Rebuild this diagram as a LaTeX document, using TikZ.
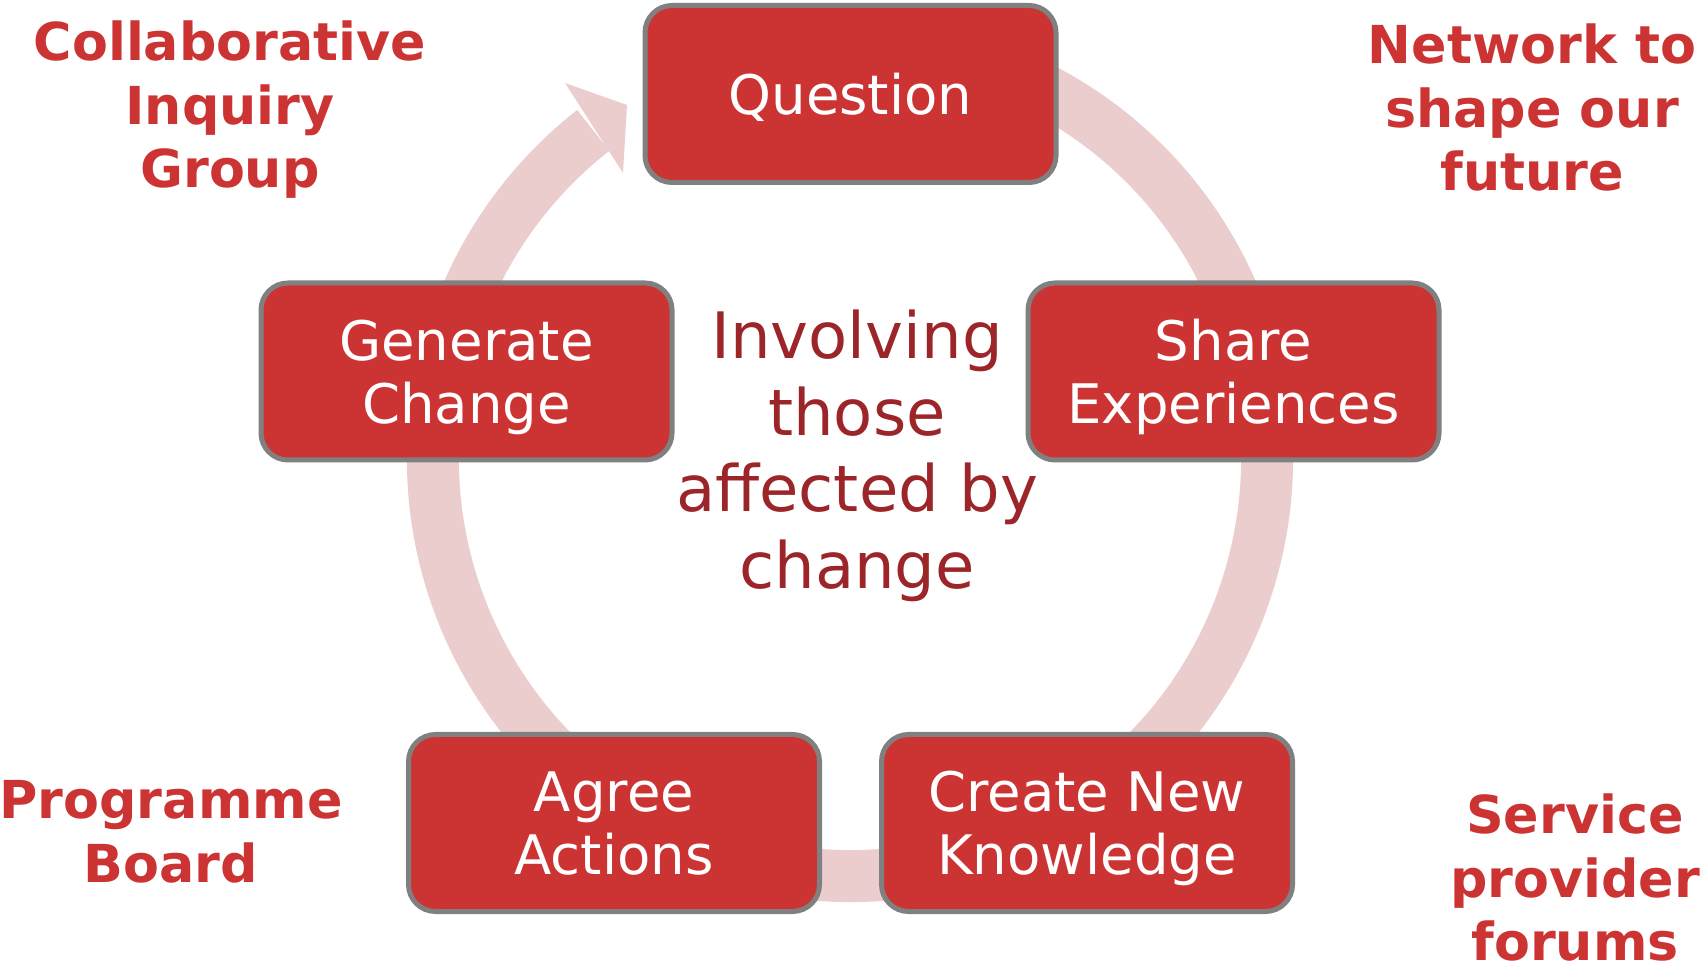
\documentclass[tikz,border=0pt]{standalone}
\usepackage{fontspec}
\setmainfont{DejaVu Sans}
\definecolor{boxred}{HTML}{CC3333}
\definecolor{boxgrey}{HTML}{808080}
\definecolor{ringpink}{HTML}{EBCDCE}
\definecolor{labelred}{HTML}{CC3333}
\definecolor{centerred}{HTML}{9B2529}
\newcommand{\zerodepth}[1]{\raisebox{0pt}[\height][0pt]{#1}}
\begin{document}
\begin{tikzpicture}[x=1pt,y=1pt,
  stepbox/.style={draw=boxgrey, line width=5pt, fill=boxred, rounded corners=27pt,
    minimum width=411pt, minimum height=177pt, text=white, align=center,
    font=\fontsize{54.5}{63}\selectfont, inner sep=0pt},
  cornerlabel/.style={text=labelred, align=center, inner sep=0pt,
    font=\bfseries\fontsize{52.3}{63.5}\selectfont},
  centerlabel/.style={text=centerred, align=center, inner sep=0pt,
    font=\fontsize{64}{76.5}\selectfont},
  ringline/.style={draw=ringpink, line width=52pt}
]
\useasboundingbox (0,0) rectangle (1704,966);
\coordinate (c) at (850,507);
% ring
\draw[ringline] ([shift={(75:417)}]c) arc[start angle=75, end angle=-232, radius=417];
% arrow head
\coordinate (hb1) at (565,883);
\coordinate (htip) at (627,861);
\coordinate (hb2) at (623,793);
\fill[ringpink] (hb1) -- (htip) -- (hb2) -- cycle;
% boxes
\node[stepbox] (question) at (850.5,872) {\zerodepth{Question}};
\node[stepbox] (share) at (1233.5,594.5) {Share\\\zerodepth{Experiences}};
\node[stepbox] (create) at (1087,143) {Create New\\\zerodepth{Knowledge}};
\node[stepbox] (agree) at (614,143) {Agree\\\zerodepth{Actions}};
\node[stepbox] (generate) at (466.5,594.5) {Generate\\\zerodepth{Change}};
% center
\node[centerlabel] (center) at (857,510) {Involving\\those\\affected by\\change};
% corner labels
\node[cornerlabel] (cig) at (230,856) {Collaborative\\Inquiry\\Group};
\node[cornerlabel] (net) at (1532,858) {Network to\\shape our\\future};
\node[cornerlabel] (prog) at (171,134) {Programme\\Board};
\node[cornerlabel] (serv) at (1575,88) {Service\\provider\\forums};
\end{tikzpicture}
\end{document}
